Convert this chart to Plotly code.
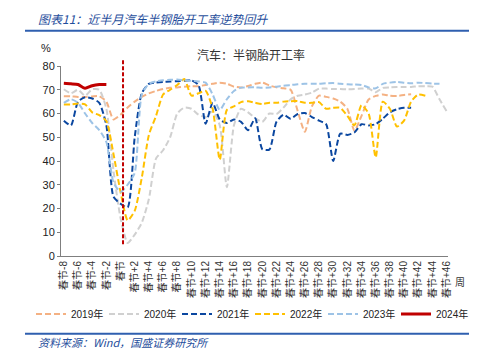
import plotly.graph_objects as go

# ---------------- data ----------------
categories = ["春节-%d" % k for k in range(8, 0, -1)] + ["春节"] + ["春节+%d" % k for k in range(1, 47)]
tick_labels = categories[::2]

y2019 = [67.3, 67.2, 67.0, 67.0, 67.2, 67.3, 65.0, 57.5, 59.5, 62.5,
         65.0, 67.0, 68.5, 69.5, 70.3, 70.8, 71.0, 71.3, 71.5, 71.5,
         72.0, 72.5, 73.0, 72.5, 71.3, 71.0, 71.6, 72.5, 73.0, 71.8,
         71.0, 70.6, 70.0, 61.0, 52.3, 63.0, 67.5, 67.0, 66.3, 65.0,
         62.0, 52.8, 59.0, 65.9, 67.4, 68.0, 67.5, 67.4, 67.8, 68.1]
y2020 = [70.2, 68.5, 70.0, 67.5, 70.2, 70.0, 62.0, 36.0, 16.0, 5.5,
         9.0, 14.0, 24.0, 41.0, 44.5, 50.0, 60.0, 62.5, 62.0, 59.5,
         58.5, 61.0, 55.0, 29.0, 55.0, 62.0, 60.5, 58.0, 56.5, 60.0,
         59.8, 62.5, 66.0, 67.5, 68.0, 68.8, 70.5, 70.5, 70.3, 70.3,
         70.2, 70.3, 70.5, 70.5, 69.0, 70.8, 71.0, 71.2, 71.2, 71.2,
         71.5, 71.5, 71.3, 66.0, 61.0]
y2021 = [57.0, 55.0, 65.0, 66.8, 66.3, 64.5, 55.0, 25.0, 22.0, 20.5,
         50.0, 68.5, 72.5, 73.0, 73.3, 73.5, 73.6, 73.8, 74.0, 72.0,
         55.7, 64.5, 57.5, 56.0, 57.5, 56.5, 53.0, 58.0, 45.0, 44.8,
         56.5, 59.5, 57.8, 59.8, 60.2, 58.5, 57.0, 55.5, 40.0, 51.5,
         51.0, 52.0, 55.5, 55.0, 55.5, 57.8, 60.5, 61.8, 62.4, 62.4]
y2022 = [63.8, 63.8, 64.2, 63.8, 60.5, 59.3, 56.8, 43.0, 27.0, 15.0,
         19.0, 33.0, 51.0, 58.9, 68.0, 70.0, 72.0, 74.5, 67.5, 68.5,
         69.5, 62.0, 40.5, 61.5, 63.0, 64.8, 65.2, 64.5, 64.0, 64.5,
         64.5, 65.0, 65.2, 65.2, 64.5, 64.5, 64.8, 62.0, 62.4, 62.4,
         59.0, 55.0, 63.5, 60.0, 41.5, 65.0, 62.0, 54.5, 57.0, 65.0,
         68.0, 67.5]
y2023 = [64.5, 66.0, 64.5, 60.0, 56.0, 53.0, 48.0, 31.0, 27.0, 30.0,
         35.0, 68.0, 72.5, 73.5, 74.0, 74.2, 74.3, 74.0, 73.8, 73.5,
         73.0, 68.0, 61.5, 66.0, 69.5, 70.9, 71.0, 71.0, 70.8, 71.0,
         71.3, 71.7, 72.0, 72.3, 72.5, 72.5, 72.5, 72.7, 72.8, 72.5,
         72.3, 72.2, 72.0, 71.0, 70.6, 72.5, 73.0, 73.3, 73.0, 72.7,
         73.0, 72.8, 72.6, 72.5]
y2024 = [72.7, 72.5, 72.2, 70.6, 71.7, 72.2, 72.2]

series = [
    ("2019年", y2019, "#F4B183", "6px,3px", 2),
    ("2020年", y2020, "#D0D0D0", "6px,3px", 2),
    ("2021年", y2021, "#0B47A0", "6px,3px", 2),
    ("2022年", y2022, "#FFC000", "6px,3px", 2),
    ("2023年", y2023, "#9DC3E6", "6px,3px", 2),
    ("2024年", y2024, "#C00000", "solid", 3),
]

# ---------------- layout geometry (pixels) ----------------
W, H = 477, 355
L, R, T, B = 53, 440, 58, 248


def px_x(px):
    return (px - L) / (R - L)


def px_y(py):
    return (B - py) / (B - T)


fig = go.Figure()
for name, ys, color, dash, width in series:
    fig.add_trace(go.Scatter(
        x=categories[:len(ys)], y=ys, name=name, mode="lines",
        line=dict(color=color, width=width, dash=dash, shape="spline", smoothing=0.6),
    ))

cjk = "Noto Sans CJK SC"
latin = "Liberation Sans, Noto Sans CJK SC"

fig.update_layout(
    width=W, height=H,
    margin=dict(l=L, r=W - R, t=T, b=H - B),
    paper_bgcolor="white", plot_bgcolor="white",
    showlegend=True,
    legend=dict(orientation="h", x=px_x(23), xanchor="left", y=px_y(306), yanchor="middle",
                font=dict(family=latin, size=10, color="#222"),
                entrywidth=28, entrywidthmode="pixels", tracegroupgap=0,
                bgcolor="rgba(0,0,0,0)"),
    xaxis=dict(type="category", categoryorder="array", categoryarray=categories,
               range=[-0.4, 54.2], tickmode="array", tickvals=tick_labels, ticktext=tick_labels,
               tickangle=-90, tickfont=dict(family=latin, size=10, color="#333"),
               showline=True, linecolor="#7f7f7f", linewidth=1, ticks="",
               showgrid=False, zeroline=False, fixedrange=True),
    yaxis=dict(range=[0, 80], tickmode="linear", tick0=0, dtick=10,
               tickfont=dict(family=latin, size=11, color="#222"),
               showline=True, linecolor="#7f7f7f", linewidth=1,
               ticks="outside", ticklen=3, tickcolor="#7f7f7f",
               showgrid=False, zeroline=False, fixedrange=True),
)

# Spring-festival marker
fig.add_shape(type="line", xref="x", yref="paper", x0=8.35, x1=8.35,
              y0=5 / 80, y1=83 / 80, line=dict(color="#C00000", width=2, dash="4px,2px"))

# header rules
fig.add_shape(type="line", xref="paper", yref="paper", x0=px_x(17), x1=px_x(468),
              y0=px_y(22.7), y1=px_y(22.7), line=dict(color="#2F5FAF", width=2))
fig.add_shape(type="line", xref="paper", yref="paper", x0=px_x(17), x1=px_x(468),
              y0=px_y(325.7), y1=px_y(325.7), line=dict(color="#2F5FAF", width=2))

blue = "#1F4E9C"
fig.add_annotation(text="<i>图表11：近半月汽车半钢胎开工率逆势回升</i>", xref="paper", yref="paper",
                   x=px_x(28), y=px_y(10), xanchor="left", yanchor="middle", showarrow=False,
                   font=dict(family=cjk, size=12, color=blue))
fig.add_annotation(text="<i>资料来源：Wind，国盛证券研究所</i>", xref="paper", yref="paper",
                   x=px_x(28), y=px_y(334), xanchor="left", yanchor="middle", showarrow=False,
                   font=dict(family=cjk, size=11, color=blue))
fig.add_annotation(text="汽车：半钢胎开工率", xref="paper", yref="paper",
                   x=px_x(243), y=px_y(46), xanchor="center", yanchor="middle", showarrow=False,
                   font=dict(family=cjk, size=12, color="#333"))
fig.add_annotation(text="%", xref="paper", yref="paper",
                   x=px_x(38), y=px_y(40), xanchor="center", yanchor="middle", showarrow=False,
                   font=dict(family=latin, size=11, color="#222"))
fig.add_annotation(text="周", xref="paper", yref="paper",
                   x=px_x(445), y=px_y(273), xanchor="left", yanchor="middle", showarrow=False,
                   font=dict(family=cjk, size=10, color="#333"))

fig.write_html("out.html")
